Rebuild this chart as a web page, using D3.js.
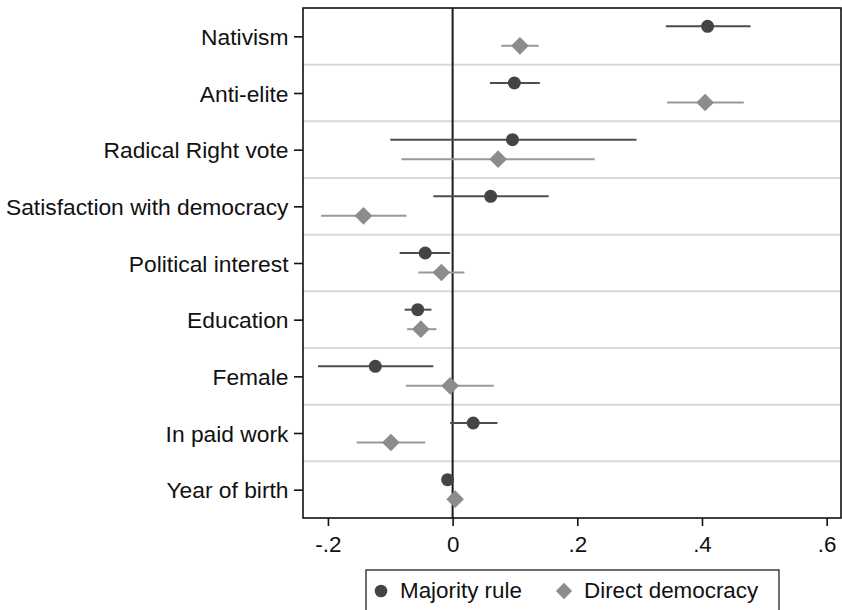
<!DOCTYPE html>
<html>
<head>
<meta charset="utf-8">
<script src="https://cdn.jsdelivr.net/npm/d3@7"></script>
<style>
    html, body { margin: 0; padding: 0; background: #fff; }
    svg { display: block; font-family: "Liberation Sans", Arial, sans-serif; }
</style>
</head>
<body>
<svg id="chart" width="842" height="610"></svg>
<script>

// data
const categories = ['Nativism', 'Anti-elite', 'Radical Right vote', 'Satisfaction with democracy',
    'Political interest', 'Education', 'Female', 'In paid work', 'Year of birth'];

const majorityEst = [0.409, 0.099, 0.096, 0.061, -0.044, -0.056, -0.124, 0.033, -0.008];
const majorityLo  = [0.342, 0.060, -0.100, -0.031, -0.085, -0.077, -0.216, -0.004, -0.010];
const majorityHi  = [0.478, 0.140, 0.295, 0.154, -0.004, -0.034, -0.031, 0.072, -0.006];

const directEst = [0.108, 0.405, 0.073, -0.143, -0.018, -0.051, -0.004, -0.099, 0.004];
const directLo  = [0.078, 0.344, -0.082, -0.211, -0.055, -0.073, -0.075, -0.154, 0.002];
const directHi  = [0.138, 0.467, 0.228, -0.074, 0.019, -0.026, 0.066, -0.044, 0.006];

const xTicks = [-0.2, 0, 0.2, 0.4, 0.6];
const xTickLabels = ['-.2', '0', '.2', '.4', '.6'];

const seriesNames = ['Majority rule', 'Direct democracy'];

const coefplot = (function () {

    let svg = d3.select('#chart'),
        plotLeft = 303,
        plotRight = 841,
        plotTop = 8,
        plotBottom = 518,
        fontSize = 22.4,
        labelFontSize = 22.8,
        colorMajority = '#444444',
        colorMajorityLine = '#4d4d4d',
        colorDirect = '#8c8c8c',
        colorDirectLine = '#999999',
        textColor = '#111111',
        x = null,
        y = null
        ;

    return { init };

    function init() {

        x = d3.scaleLinear()
            .domain([-0.24, 0.623])
            .range([plotLeft, plotRight]);

        y = d3.scaleBand()
            .domain(categories)
            .range([plotTop, plotBottom])
            .padding(0);

        drawGrid();
        drawSeries(majorityEst, majorityLo, majorityHi, -10, 'circle', colorMajority, colorMajorityLine);
        drawSeries(directEst, directLo, directHi, 9.5, 'diamond', colorDirect, colorDirectLine);
        drawAxes();
        drawLegend();
    }

    function rowCenter(c) {
        return y(c) + y.bandwidth() / 2;
    }

    function drawGrid() {

        //light separators between the rows
        svg.append('g')
            .selectAll('line')
            .data(categories.slice(1))
            .enter().append('line')
            .attr('x1', plotLeft)
            .attr('x2', plotRight)
            .attr('y1', function(d) { return y(d); })
            .attr('y2', function(d) { return y(d); })
            .style('stroke', '#d9d9d9')
            .style('stroke-width', 2);

        //reference line at zero
        svg.append('line')
            .attr('x1', x(0))
            .attr('x2', x(0))
            .attr('y1', plotTop)
            .attr('y2', plotBottom)
            .style('stroke', '#1a1a1a')
            .style('stroke-width', 2);
    }

    function drawSeries(est, lo, hi, offset, shape, fill, lineColor) {

        var rows = categories.map(function(c, i) {
            return { cat: c, est: est[i], lo: lo[i], hi: hi[i] };
        });

        var g = svg.append('g');

        //confidence intervals
        g.selectAll('.ci')
            .data(rows)
            .enter().append('line')
            .attr('class', 'ci')
            .attr('x1', function(d) { return x(d.lo); })
            .attr('x2', function(d) { return x(d.hi); })
            .attr('y1', function(d) { return rowCenter(d.cat) + offset; })
            .attr('y2', function(d) { return rowCenter(d.cat) + offset; })
            .style('stroke', lineColor)
            .style('stroke-width', 2);

        //point estimates
        var sym = shape == 'circle'
            ? d3.symbol().type(d3.symbolCircle).size(Math.PI * 6.5 * 6.5)
            : d3.symbol().type(d3.symbolSquare).size(12.5 * 12.5);

        g.selectAll('.pt')
            .data(rows)
            .enter().append('path')
            .attr('class', 'pt')
            .attr('d', sym)
            .attr('transform', function(d) {
                var t = 'translate(' + x(d.est) + ',' + (rowCenter(d.cat) + offset) + ')';
                return shape == 'circle' ? t : t + ' rotate(45)';
            })
            .style('fill', fill);
    }

    function drawAxes() {

        //frame around the plot
        svg.append('rect')
            .attr('x', plotLeft)
            .attr('y', plotTop)
            .attr('width', plotRight - plotLeft)
            .attr('height', plotBottom - plotTop)
            .style('fill', 'none')
            .style('stroke', '#111')
            .style('stroke-width', 1.6);

        var yAxis = svg.append('g')
            .attr('transform', 'translate(' + plotLeft + ',0)')
            .call(d3.axisLeft(d3.scalePoint()
                    .domain(categories)
                    .range([rowCenter(categories[0]), rowCenter(categories[categories.length - 1])]))
                .tickSize(9)
                .tickPadding(5.5));

        var xAxis = svg.append('g')
            .attr('transform', 'translate(0,' + plotBottom + ')')
            .call(d3.axisBottom(x)
                .tickValues(xTicks)
                .tickFormat(function(d, i) { return xTickLabels[i]; })
                .tickSize(8)
                .tickPadding(10));

        [yAxis, xAxis].forEach(function(ax) {
            ax.select('.domain').remove();
            ax.selectAll('.tick line')
                .style('stroke', '#111')
                .style('stroke-width', 1.6);
            ax.selectAll('.tick text')
                .style('font-size', fontSize + 'px')
                .style('fill', textColor);
        });

        yAxis.selectAll('.tick text')
            .attr('dy', '0.36em')
            .style('font-size', labelFontSize + 'px');
        xAxis.selectAll('.tick text').attr('dy', '0.72em');
    }

    function drawLegend() {

        var legend = svg.append('g');

        legend.append('rect')
            .attr('x', 366)
            .attr('y', 570)
            .attr('width', 413)
            .attr('height', 50)
            .style('fill', '#fff')
            .style('stroke', '#222')
            .style('stroke-width', 1.3);

        var items = [
            { name: seriesNames[0], shape: 'circle', fill: colorMajority, mx: 381, tx: 400 },
            { name: seriesNames[1], shape: 'diamond', fill: colorDirect, mx: 564, tx: 584 }
        ];

        var item = legend.selectAll('.legend-item')
            .data(items)
            .enter().append('g')
            .attr('class', 'legend-item');

        item.append('path')
            .attr('d', function(d) {
                return d.shape == 'circle'
                    ? d3.symbol().type(d3.symbolCircle).size(Math.PI * 6.3 * 6.3)()
                    : d3.symbol().type(d3.symbolSquare).size(11.5 * 11.5)();
            })
            .attr('transform', function(d) {
                var t = 'translate(' + d.mx + ',591)';
                return d.shape == 'circle' ? t : t + ' rotate(45)';
            })
            .style('fill', function(d) { return d.fill; });

        item.append('text')
            .attr('x', function(d) { return d.tx; })
            .attr('y', 598)
            .style('font-size', fontSize + 'px')
            .style('fill', textColor)
            .text(function(d) { return d.name; });
    }

}());

coefplot.init();

</script>
</body>
</html>
